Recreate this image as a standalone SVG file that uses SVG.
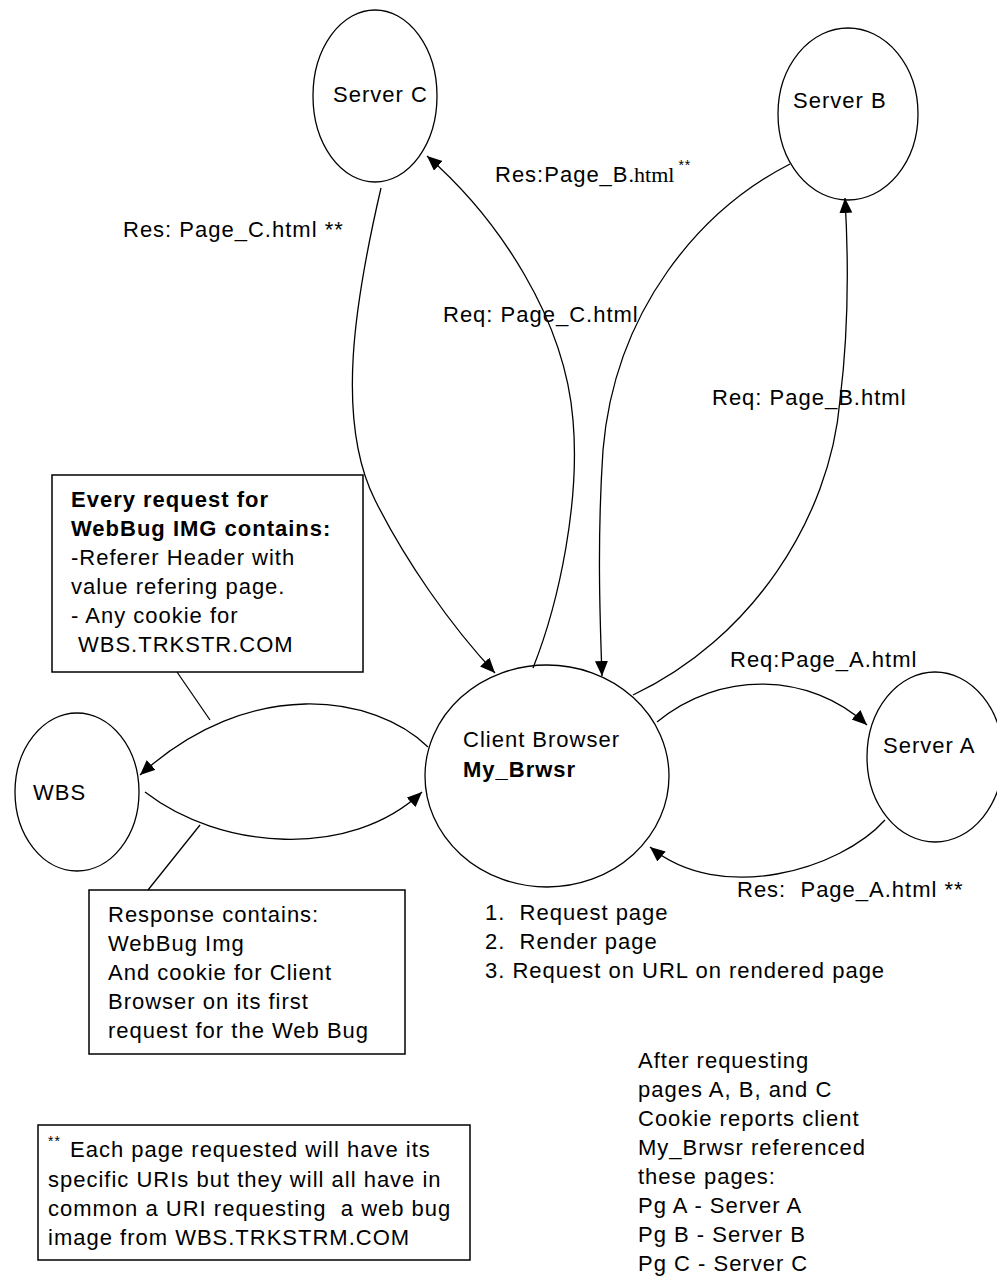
<svg xmlns="http://www.w3.org/2000/svg" width="997" height="1281" viewBox="0 0 997 1281">
<style>
text{font-family:"Liberation Sans",Arial,sans-serif;font-size:22px;letter-spacing:1px;fill:#000}
.b{font-weight:bold}
.node{fill:#fff;stroke:#000;stroke-width:1.3}
.box{fill:#fff;stroke:#000;stroke-width:1.5}
.edge{fill:none;stroke:#000;stroke-width:1.3}
.sup{font-size:14px}
.serif{font-family:"Liberation Serif","Times New Roman",serif;letter-spacing:0}
</style>
<defs>
<marker id="arr" markerUnits="userSpaceOnUse" markerWidth="16" markerHeight="14" refX="15" refY="6.5" orient="auto">
<path d="M0,0 L15,6.5 L0,13 z" fill="#000"/>
</marker>
</defs>
<rect width="997" height="1281" fill="#fff"/>

<g id="server-c"><ellipse class="node" cx="375" cy="96" rx="62" ry="86"/><text x="333" y="102">Server C</text></g>
<g id="server-b"><ellipse class="node" cx="848" cy="114" rx="70" ry="86"/><text x="793" y="108">Server B</text></g>
<g id="server-a"><ellipse class="node" cx="935" cy="757" rx="68" ry="85"/><text x="883" y="753">Server A</text></g>
<g id="wbs"><ellipse class="node" cx="77" cy="792" rx="62" ry="79"/><text x="33" y="800">WBS</text></g>
<g id="client"><ellipse class="node" cx="547" cy="776" rx="122" ry="111"/><text x="463" y="747">Client Browser</text><text class="b" x="463" y="777">My_Brwsr</text></g>

<g id="note-request">
<rect class="box" x="52" y="475" width="311" height="197"/>
<text class="b" x="71" y="507">Every request for</text>
<text class="b" x="71" y="536">WebBug IMG contains:</text>
<text x="71" y="565">-Referer Header with</text>
<text x="71" y="594">value refering page.</text>
<text x="71" y="623">- Any cookie for</text>
<text x="78" y="652">WBS.TRKSTR.COM</text>
</g>

<g id="note-response">
<rect class="box" x="89" y="890" width="316" height="164"/>
<text x="108" y="922">Response contains:</text>
<text x="108" y="951">WebBug Img</text>
<text x="108" y="980">And cookie for Client</text>
<text x="108" y="1009">Browser on its first</text>
<text x="108" y="1038">request for the Web Bug</text>
</g>

<g id="note-footnote">
<rect class="box" x="38" y="1125" width="432" height="135"/>
<text class="sup" x="48" y="1146">**</text>
<text x="70" y="1157">Each page requested will have its</text>
<text x="48" y="1187">specific URIs but they will all have in</text>
<text x="48" y="1216" xml:space="preserve">common a URI requesting  a web bug</text>
<text x="48" y="1245">image from WBS.TRKSTRM.COM</text>
</g>

<g id="steps">
<text x="485" y="920" xml:space="preserve">1.  Request page</text>
<text x="485" y="949" xml:space="preserve">2.  Render page</text>
<text x="485" y="978">3. Request on URL on rendered page</text>
</g>

<g id="summary">
<text x="638" y="1068">After requesting</text>
<text x="638" y="1097">pages A, B, and C</text>
<text x="638" y="1126">Cookie reports client</text>
<text x="638" y="1155">My_Brwsr referenced</text>
<text x="638" y="1184">these pages:</text>
<text x="638" y="1213">Pg A - Server A</text>
<text x="638" y="1242">Pg B - Server B</text>
<text x="638" y="1271">Pg C - Server C</text>
</g>

<g id="connectors">
<path class="edge" marker-end="url(#arr)" d="M381,188 C355,300 335,420 375,500 C405,560 450,625 495,673"/>
<path class="edge" marker-end="url(#arr)" d="M533,668 C560,600 580,500 573,420 C565,320 500,220 427,156"/>
<path class="edge" marker-end="url(#arr)" d="M790,164 C700,210 615,310 603,450 C597,540 600,620 602,676"/>
<path class="edge" marker-end="url(#arr)" d="M633,695 C750,640 830,520 840,400 C850,320 848,250 845,198"/>
<path class="edge" marker-end="url(#arr)" d="M657,722 C720,670 810,672 867,725"/>
<path class="edge" marker-end="url(#arr)" d="M885,820 C840,870 720,905 650,847"/>
<path class="edge" marker-end="url(#arr)" d="M428,747 C375,695 250,675 140,775"/>
<path class="edge" marker-end="url(#arr)" d="M145,792 C220,850 350,860 422,792"/>
<line class="edge" x1="177" y1="672" x2="210" y2="720"/>
<line class="edge" x1="200" y1="825" x2="148" y2="890"/>
</g>

<g id="labels">
<text x="123" y="237">Res: Page_C.html **</text>
<text x="495" y="182">Res:Page_B<tspan class="serif">.html</tspan><tspan class="sup" dx="4" dy="-12">**</tspan></text>
<text x="443" y="322">Req: Page_C.html</text>
<text x="712" y="405">Req: Page_B.html</text>
<text x="730" y="667">Req:Page_A.html</text>
<text x="737" y="897" xml:space="preserve">Res:  Page_A.html **</text>
</g>
</svg>
